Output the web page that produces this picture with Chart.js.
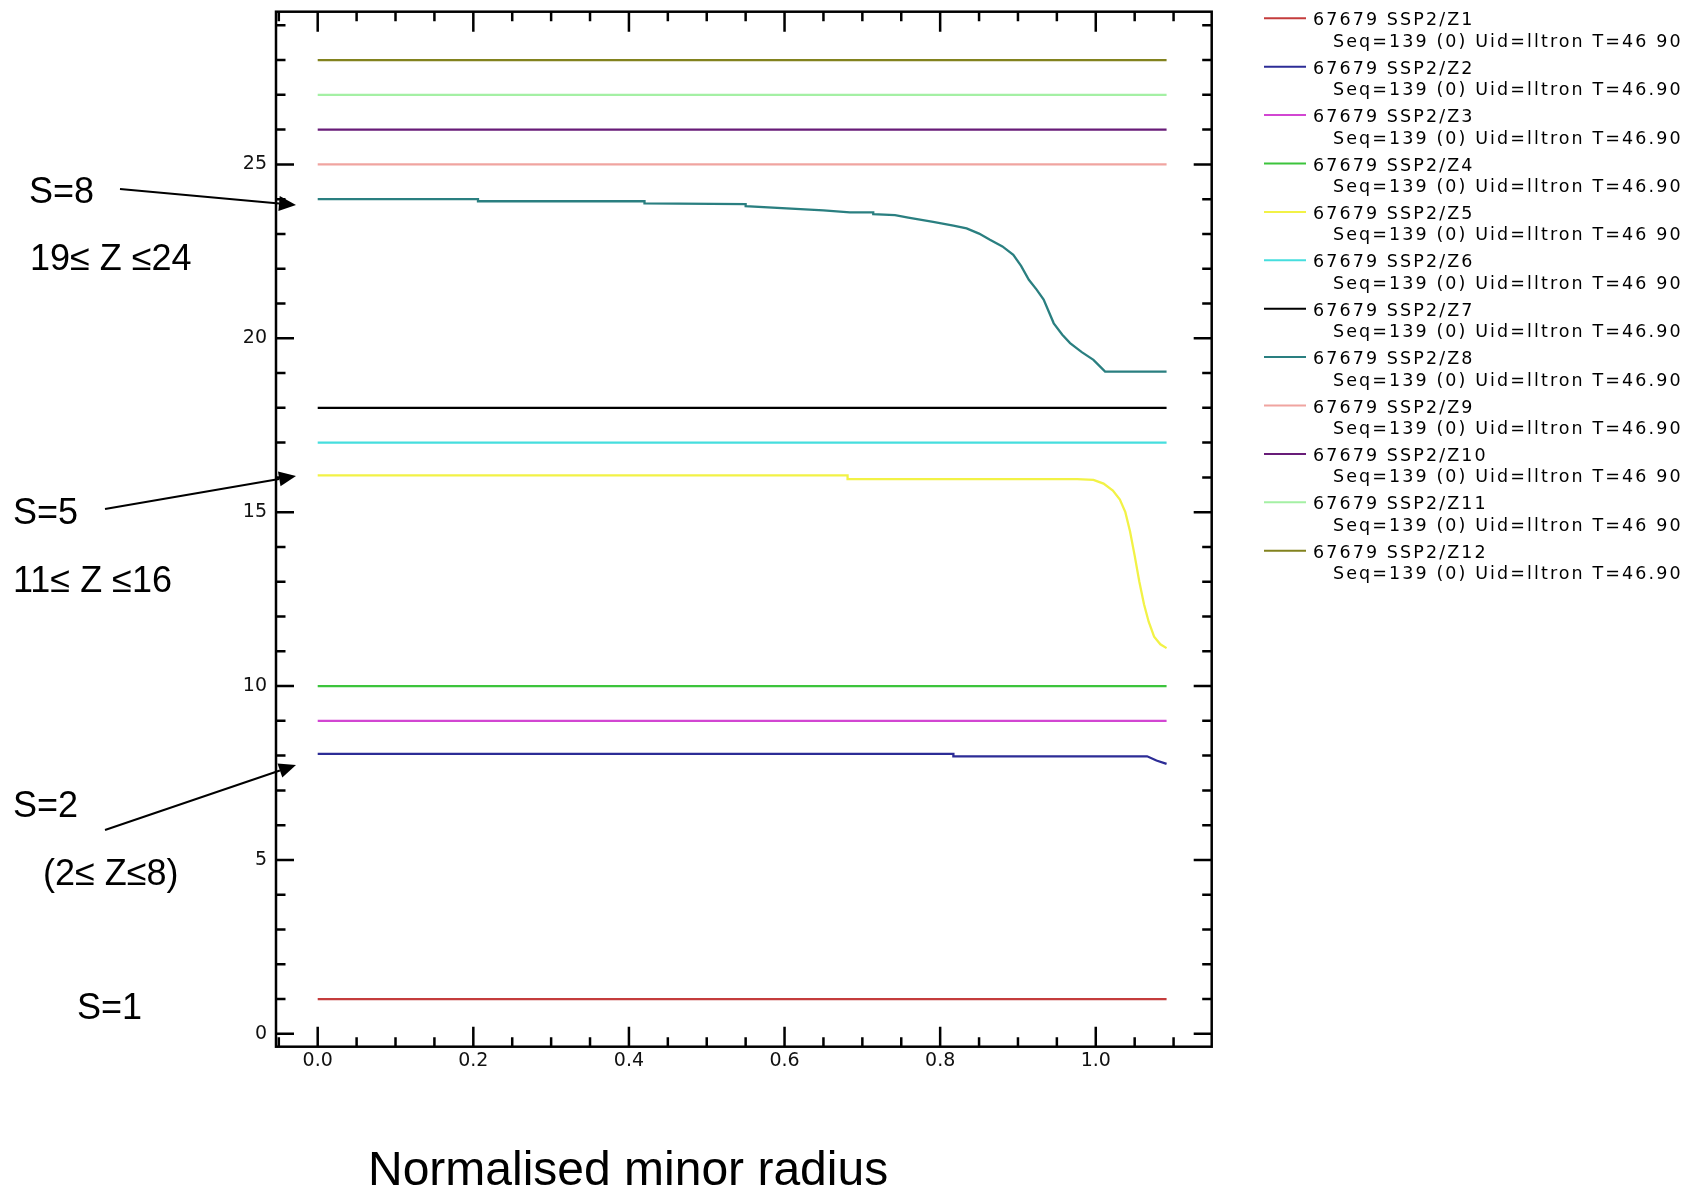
<!DOCTYPE html>
<html>
<head>
<meta charset="utf-8">
<title>Charge states vs normalised minor radius</title>
<script src="https://cdn.jsdelivr.net/npm/chart.js@4.4.1/dist/chart.umd.min.js"></script>
<style>
  html, body { margin: 0; padding: 0; background: #fff; }
  canvas { display: block; }
</style>
</head>
<body>
<canvas id="zChart" width="1697" height="1199"></canvas>
<script>
// axis ranges and ticks
const xMin = -0.0536, xMax = 1.149;
const yMin = -0.37, yMax = 29.39;
const xMajorTicks = [0, 0.2, 0.4, 0.6, 0.8, 1.0];
const xMinorTicks = [-0.05, 0.05, 0.1, 0.15, 0.25, 0.3, 0.35, 0.45, 0.5, 0.55, 0.65, 0.7, 0.75, 0.85, 0.9, 0.95, 1.05, 1.1];
const yMajorTicks = [0, 5, 10, 15, 20, 25];
const yMinorTicks = [1, 2, 3, 4, 6, 7, 8, 9, 11, 12, 13, 14, 16, 17, 18, 19, 21, 22, 23, 24, 26, 27, 28, 29];

// flat profiles only need the two end points
const flatR = [0, 1.091];
const z1 = [1, 1];
const z3 = [9, 9];
const z4 = [10, 10];
const z6 = [17, 17];
const z7 = [18, 18];
const z9 = [25, 25];
const z10 = [26, 26];
const z11 = [27, 27];
const z12 = [28, 28];

// profiles that fall off towards the edge
const z2R = [0, 0.817, 0.817, 1.066, 1.078, 1.091];
const z2 = [8.05, 8.05, 7.98, 7.98, 7.86, 7.76];

const z5R = [0, 0.681, 0.681, 0.976, 0.997, 1.010, 1.022, 1.031, 1.038, 1.044, 1.050, 1.056, 1.062, 1.068, 1.075, 1.083, 1.091];
const z5 = [16.06, 16.06, 15.95, 15.95, 15.93, 15.82, 15.62, 15.36, 15.00, 14.45, 13.75, 13.00, 12.35, 11.85, 11.42, 11.20, 11.09];

const z8R = [0, 0.206, 0.206, 0.42, 0.42, 0.55, 0.55, 0.65, 0.684, 0.714, 0.714, 0.742, 0.759,
             0.791, 0.817, 0.834, 0.850, 0.864, 0.880, 0.894, 0.904, 0.914, 0.924, 0.933, 0.946,
             0.957, 0.967, 0.982, 0.997, 1.012, 1.091];
const z8 = [24.0, 24.0, 23.94, 23.94, 23.88, 23.86, 23.80, 23.68, 23.62, 23.62, 23.57, 23.54, 23.47,
            23.35, 23.24, 23.16, 23.01, 22.83, 22.64, 22.40, 22.08, 21.68, 21.40, 21.11, 20.43,
            20.10, 19.86, 19.60, 19.38, 19.04, 19.04];

const seriesLabels = ['67679 SSP2/Z1', '67679 SSP2/Z2', '67679 SSP2/Z3', '67679 SSP2/Z4',
                      '67679 SSP2/Z5', '67679 SSP2/Z6', '67679 SSP2/Z7', '67679 SSP2/Z8',
                      '67679 SSP2/Z9', '67679 SSP2/Z10', '67679 SSP2/Z11', '67679 SSP2/Z12'];
const seriesInfo = ['Seq=139 (0) Uid=lltron T=46 90', 'Seq=139 (0) Uid=lltron T=46.90',
                    'Seq=139 (0) Uid=lltron T=46.90', 'Seq=139 (0) Uid=lltron T=46.90',
                    'Seq=139 (0) Uid=lltron T=46 90', 'Seq=139 (0) Uid=lltron T=46 90',
                    'Seq=139 (0) Uid=lltron T=46.90', 'Seq=139 (0) Uid=lltron T=46.90',
                    'Seq=139 (0) Uid=lltron T=46.90', 'Seq=139 (0) Uid=lltron T=46 90',
                    'Seq=139 (0) Uid=lltron T=46 90', 'Seq=139 (0) Uid=lltron T=46.90'];
const seriesColors = ['#c43c3c', '#2c2c96', '#d246d2', '#3cc43c', '#f2f246', '#46dede',
                      '#000000', '#2a7f80', '#f0a4a0', '#681c78', '#a4f0a4', '#82821e'];

const series = [[flatR, z1], [z2R, z2], [flatR, z3], [flatR, z4], [z5R, z5], [flatR, z6],
                [flatR, z7], [z8R, z8], [flatR, z9], [flatR, z10], [flatR, z11], [flatR, z12]];

const datasets = series.map(([r, z], i) => ({
  label: seriesLabels[i],
  data: r.map((x, k) => ({ x: x, y: z[k] })),
  borderColor: seriesColors[i],
  borderWidth: 2.3,
  pointRadius: 0,
  tension: 0,
  fill: false
}));

const tickFont = { family: 'DejaVu Sans', size: 19 };

// box with inward ticks on all four sides
const framePlugin = {
  id: 'frame',
  afterDraw(chart) {
    const { ctx, chartArea: a, scales } = chart;
    ctx.save();
    ctx.strokeStyle = '#000';
    ctx.lineWidth = 2.5;
    ctx.strokeRect(a.left, a.top, a.right - a.left, a.bottom - a.top);
    ctx.beginPath();
    const xt = (list, len) => list.forEach(v => {
      const px = scales.x.getPixelForValue(v);
      ctx.moveTo(px, a.bottom); ctx.lineTo(px, a.bottom - len);
      ctx.moveTo(px, a.top); ctx.lineTo(px, a.top + len);
    });
    const yt = (list, len) => list.forEach(v => {
      const py = scales.y.getPixelForValue(v);
      ctx.moveTo(a.left, py); ctx.lineTo(a.left + len, py);
      ctx.moveTo(a.right, py); ctx.lineTo(a.right - len, py);
    });
    xt(xMajorTicks, 20); xt(xMinorTicks, 9.5);
    yt(yMajorTicks, 18); yt(yMinorTicks, 9.5);
    ctx.stroke();
    ctx.restore();
  }
};

function arrow(ctx, x1, y1, x2, y2) {
  const ang = Math.atan2(y2 - y1, x2 - x1);
  const len = 17, half = 7.5;
  const bx = x2 - len * Math.cos(ang), by = y2 - len * Math.sin(ang);
  ctx.beginPath();
  ctx.moveTo(x1, y1);
  ctx.lineTo(bx, by);
  ctx.stroke();
  ctx.beginPath();
  ctx.moveTo(x2, y2);
  ctx.lineTo(bx - half * Math.sin(ang), by + half * Math.cos(ang));
  ctx.lineTo(bx + half * Math.sin(ang), by - half * Math.cos(ang));
  ctx.closePath();
  ctx.fill();
}

// two-line legend on the right, shell labels and axis title
const notesPlugin = {
  id: 'notes',
  afterDraw(chart) {
    const ctx = chart.ctx;
    ctx.save();
    ctx.font = '17.5px "DejaVu Sans"';
    ctx.letterSpacing = '2.1px';
    ctx.textBaseline = 'middle';
    ctx.fillStyle = '#000';
    chart.data.datasets.forEach((ds, i) => {
      const y = 18.3 + i * 48.4;
      ctx.strokeStyle = ds.borderColor;
      ctx.lineWidth = 2;
      ctx.beginPath();
      ctx.moveTo(1264, y);
      ctx.lineTo(1306, y);
      ctx.stroke();
      ctx.fillText(ds.label, 1313, y + 2.5);
      ctx.fillText(seriesInfo[i], 1333, y + 24);
    });
    ctx.letterSpacing = '0px';

    ctx.fillStyle = '#000';
    ctx.strokeStyle = '#000';
    ctx.lineWidth = 2;
    ctx.textBaseline = 'alphabetic';
    ctx.font = '36px "Liberation Sans", Arial, sans-serif';
    ctx.fillText('S=8', 29, 203);
    ctx.fillText('19\u2264 Z \u226424', 30, 270);
    ctx.fillText('S=5', 13, 524);
    ctx.fillText('11\u2264 Z \u226416', 13, 592);
    ctx.fillText('S=2', 13, 817);
    ctx.fillText('(2\u2264 Z\u22648)', 43, 885);
    ctx.fillText('S=1', 77, 1019);
    arrow(ctx, 120, 189, 296, 205);
    arrow(ctx, 105, 509, 296, 476);
    arrow(ctx, 105, 830, 296, 765);

    ctx.font = '48px "Liberation Sans", Arial, sans-serif';
    ctx.fillText('Normalised minor radius', 368, 1185);
    ctx.restore();
  }
};

new Chart(document.getElementById('zChart'), {
  type: 'line',
  data: { datasets: datasets },
  options: {
    responsive: false,
    animation: false,
    devicePixelRatio: 1,
    layout: { padding: { left: 0, top: 11.7, right: 485.3, bottom: 0 } },
    plugins: { legend: { display: false }, tooltip: { enabled: false } },
    scales: {
      x: {
        type: 'linear',
        min: xMin,
        max: xMax,
        afterBuildTicks: s => { s.ticks = xMajorTicks.map(v => ({ value: v })); },
        afterFit: s => { s.height = 152.3; s.paddingLeft = 0; s.paddingRight = 0; },
        grid: { display: false, drawTicks: false },
        border: { display: false },
        ticks: {
          font: tickFont, color: '#111', padding: 3, maxRotation: 0, autoSkip: false,
          callback: v => v.toFixed(1)
        }
      },
      y: {
        type: 'linear',
        min: yMin,
        max: yMax,
        afterBuildTicks: s => { s.ticks = yMajorTicks.map(v => ({ value: v })); },
        afterFit: s => { s.width = 276; s.paddingTop = 0; s.paddingBottom = 0; },
        grid: { display: false, drawTicks: false },
        border: { display: false },
        ticks: { font: tickFont, color: '#111', padding: 9, autoSkip: false, callback: v => String(v) }
      }
    }
  },
  plugins: [framePlugin, notesPlugin]
});
</script>
</body>
</html>
